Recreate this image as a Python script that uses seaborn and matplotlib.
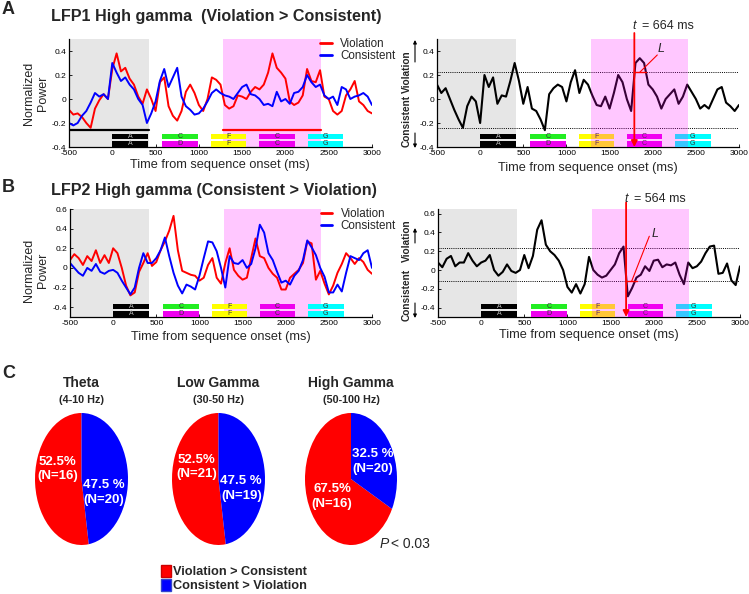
import matplotlib
matplotlib.use("Agg")
import matplotlib.pyplot as plt
from matplotlib.patches import Patch
import seaborn as sns

sns.set_theme(style="white")
plt.rcParams["font.family"] = ["Liberation Sans", "DejaVu Sans"]
plt.rcParams["axes.unicode_minus"] = False
NARROW = ["Liberation Sans Narrow", "Liberation Sans", "DejaVu Sans"]

W, H = 749, 594

# ---- data (one sample every 50 ms, -500 .. 3000) ----
TIME = list(range(-500, 3001, 50))

A_VIOL = [-0.09, -0.13, -0.12, -0.15, -0.20, -0.24, -0.08, -0.01, 0.04, 0.00,
          0.25, 0.38, 0.23, 0.26, 0.17, 0.12, 0.02, -0.04, 0.08, 0.00,
          -0.10, 0.14, 0.18, -0.06, -0.14, -0.18, -0.10, 0.06, 0.12, 0.05,
          -0.05, -0.10, 0.00, 0.18, 0.16, 0.12, -0.05, -0.08, -0.06, 0.03,
          0.02, 0.00, 0.06, 0.10, 0.08, 0.12, 0.22, 0.38, 0.26, 0.22,
          0.17, -0.02, -0.05, -0.03, 0.03, 0.25, 0.15, 0.14, 0.24, 0.02,
          0.00, -0.10, -0.13, -0.10, 0.03, 0.08, 0.15, -0.02, -0.05, -0.10,
          -0.12]
A_CONS = [-0.20, -0.22, -0.20, -0.14, -0.10, -0.03, 0.05, 0.02, 0.04, 0.00,
          0.30, 0.22, 0.15, 0.18, 0.12, 0.08, 0.00, -0.05, -0.20, -0.12,
          -0.02, 0.15, 0.25, 0.10, 0.18, 0.26, 0.02, -0.06, -0.09, -0.13,
          -0.12, -0.08, -0.02, 0.05, 0.08, 0.05, 0.03, 0.02, 0.00, 0.05,
          0.10, 0.12, 0.04, 0.03, 0.00, -0.05, -0.04, -0.06, 0.06, -0.02,
          0.00, -0.04, 0.05, 0.06, 0.10, 0.20, 0.14, 0.10, 0.12, 0.03,
          0.00, 0.02, -0.05, 0.10, 0.08, 0.00, 0.02, 0.03, 0.05, 0.02,
          -0.05]
A_DIFF = [0.12, 0.05, 0.09, 0.00, -0.09, -0.17, -0.24, -0.06, 0.02, -0.02,
          -0.20, 0.20, 0.10, 0.18, -0.04, 0.03, 0.02, 0.15, 0.30, 0.15,
          -0.04, 0.10, -0.08, -0.10, -0.17, -0.26, 0.04, 0.09, 0.12, 0.10,
          -0.02, 0.14, 0.24, 0.05, 0.16, 0.12, 0.03, -0.05, -0.06, 0.02,
          -0.08, 0.05, 0.20, 0.14, 0.00, -0.10, 0.30, 0.34, 0.30, 0.12,
          0.08, 0.02, -0.08, 0.00, 0.04, 0.08, -0.04, 0.02, 0.12, 0.06,
          0.00, -0.08, -0.05, -0.08, 0.00, 0.08, 0.10, -0.03, -0.06, -0.10,
          -0.05]
B_VIOL = [0.08, 0.14, 0.10, 0.03, 0.12, 0.07, 0.18, 0.05, 0.13, 0.05,
          0.20, 0.15, 0.00, -0.18, -0.28, -0.25, -0.04, 0.05, 0.15, 0.02,
          0.06, 0.18, 0.27, 0.38, 0.53, 0.18, -0.03, -0.05, -0.07, -0.08,
          -0.13, -0.10, 0.03, 0.10, -0.10, -0.16, 0.05, 0.20, -0.02, -0.08,
          -0.12, -0.10, 0.10, 0.30, 0.12, 0.10, 0.00, -0.06, -0.10, -0.22,
          -0.22, -0.10, -0.06, -0.02, 0.05, 0.27, 0.25, -0.12, -0.03, -0.16,
          -0.27, -0.18, -0.05, 0.04, 0.15, 0.10, 0.04, 0.10, 0.06, -0.02,
          -0.06]
B_CONS = [0.05, 0.00, -0.05, -0.08, 0.00, -0.03, 0.04, -0.04, -0.06, -0.03,
          -0.02, -0.05, -0.13, -0.20, -0.27, -0.20, 0.00, 0.15, 0.05, 0.05,
          0.10, 0.18, 0.31, 0.12, -0.05, -0.18, -0.26, -0.17, -0.19, -0.22,
          -0.08, 0.10, 0.27, 0.26, 0.17, 0.00, -0.20, 0.12, 0.05, 0.04,
          0.08, 0.00, 0.04, 0.20, 0.44, 0.36, 0.15, 0.08, -0.04, -0.15,
          -0.13, -0.17, -0.08, -0.03, 0.08, 0.28, 0.21, 0.13, 0.00, -0.09,
          -0.25, -0.25, -0.17, -0.24, -0.05, 0.12, 0.10, 0.08, 0.15, 0.18,
          0.00]
B_DIFF = [0.08, 0.03, 0.12, 0.15, 0.04, 0.08, 0.08, 0.18, 0.10, 0.04,
          0.08, 0.10, 0.16, 0.00, -0.06, -0.02, 0.06, -0.01, -0.03, 0.00,
          0.16, 0.02, 0.15, 0.43, 0.53, 0.27, 0.20, 0.16, 0.10, 0.00,
          -0.18, -0.24, -0.15, -0.25, -0.15, 0.14, 0.00, -0.05, -0.08, -0.06,
          0.00, 0.06, 0.18, 0.25, -0.28, -0.19, -0.08, -0.05, 0.04, -0.01,
          0.10, 0.11, 0.03, 0.06, 0.05, 0.08, -0.05, -0.15, 0.08, 0.02,
          0.04, 0.09, 0.18, 0.25, 0.26, -0.04, -0.03, 0.07, -0.11, -0.16,
          0.04]

SERIES_LABELS = ["Violation", "Consistent"]
A_THRESH = [0.225, -0.24]
B_THRESH = [0.23, -0.12]
A_ONSET, B_ONSET = 1787, 1680
A_TLABEL, B_TLABEL = "= 664 ms", "= 564 ms"

BASELINE = (-500, 420)
WINDOW = (1280, 2410)
SEQ_START = [0, 580, 1140, 1700, 2260]
SEQ_LEN = 410
SEQ_TOP = ["A", "C", "F", "C", "G"]
SEQ_BOT = ["A", "D", "F", "C", "G"]
SEQ_TOP_COL = ["black", "#22ee22", "#ffff00", "#ee00ee", "#00ffff"]
SEQ_BOT_COL = ["black", "#ee00ee", "#ffff00", "#ee00ee", "#00ffff"]

BANDS = ["Theta", "Low Gamma", "High Gamma"]
BAND_HZ = ["(4-10 Hz)", "(30-50 Hz)", "(50-100 Hz)"]
PCT_VIOL = [52.5, 52.5, 67.5]
PCT_CONS = [47.5, 47.5, 32.5]
N_VIOL = [16, 21, 16]
N_CONS = [20, 19, 20]
PIE_LABELS = ["Violation > Consistent", "Consistent > Violation"]

RED, BLUE = "#ff0000", "#0000ff"
XTICKS = list(range(-500, 3001, 500))


def px_axes(fig, x0, y0, x1, y1):
    return fig.add_axes([x0 / W, 1 - y1 / H, (x1 - x0) / W, (y1 - y0) / H])


def style(ax, ylim, yticks):
    ax.set_xlim(-500, 3000)
    ax.set_ylim(*ylim)
    ax.set_xticks(XTICKS)
    ax.set_xticklabels([str(v) for v in XTICKS])
    ax.set_yticks(yticks)
    ax.set_yticklabels([f"{v:g}" for v in yticks])
    for s in ("top", "right"):
        ax.spines[s].set_visible(False)
    for s in ("left", "bottom"):
        ax.spines[s].set_color("black")
        ax.spines[s].set_linewidth(0.9)
    ax.tick_params(direction="in", length=2.5, width=0.6, labelsize=6, pad=2,
                   bottom=True, left=True, colors="black")
    ax.set_xlabel("")
    ax.set_ylabel("")


def seq_boxes(ax):
    tr = ax.get_xaxis_transform()
    for s, lt, lb, ct, cb in zip(SEQ_START, SEQ_TOP, SEQ_BOT, SEQ_TOP_COL, SEQ_BOT_COL):
        ax.axvspan(s, s + SEQ_LEN, ymin=0.072, ymax=0.125, color=ct, lw=0, zorder=3)
        ax.axvspan(s, s + SEQ_LEN, ymin=0.0, ymax=0.057, color=cb, lw=0, zorder=3)
        for y, letter, c in ((0.098, lt, ct), (0.029, lb, cb)):
            ax.text(s + SEQ_LEN / 2, y, letter, transform=tr, ha="center", va="center",
                    fontsize=5, color="#bbbbbb" if c == "black" else "#333333", zorder=4)


def left_panel(ax, viol, cons, ylim, yticks):
    ax.axvspan(*BASELINE, color="#e6e6e6", lw=0, zorder=0)
    ax.axvspan(*WINDOW, color="#ffc7ff", lw=0, zorder=0)
    sns.lineplot(x=TIME, y=viol, ax=ax, color=RED, linewidth=1.4, label=SERIES_LABELS[0])
    sns.lineplot(x=TIME, y=cons, ax=ax, color=BLUE, linewidth=1.4, label=SERIES_LABELS[1])
    seq_boxes(ax)
    style(ax, ylim, yticks)
    leg = ax.legend(loc="upper left", bbox_to_anchor=(0.83, 1.01), frameon=False,
                    fontsize=8.4, handlelength=1.0, handletextpad=0.7, borderpad=0,
                    borderaxespad=0, labelspacing=0.0)
    for line in leg.get_lines():
        line.set_linewidth(2.0)


def right_panel(ax, diff, ylim, yticks, thresh):
    ax.axvspan(*BASELINE, color="#e6e6e6", lw=0, zorder=0)
    sns.lineplot(x=TIME, y=diff, ax=ax, color="black", linewidth=1.5)
    for t in thresh:
        ax.axhline(t, color="black", ls=(0, (1, 1.2)), lw=0.7, zorder=2)
    seq_boxes(ax)
    ax.axvspan(*WINDOW, color="#ff00ff", alpha=0.22, lw=0, zorder=5)
    style(ax, ylim, yticks)


fig = plt.figure(figsize=(W / 100, H / 100), dpi=100)

# ---------------- panel A ----------------
axA1 = px_axes(fig, 69, 39, 372, 147)
left_panel(axA1, A_VIOL, A_CONS, (-0.4, 0.5), [-0.4, -0.2, 0, 0.2, 0.4])
axA1.plot(BASELINE, [-0.258, -0.258], color="black", lw=1.6, zorder=4)
axA1.plot(WINDOW, [-0.258, -0.258], color=RED, lw=1.6, zorder=4)

axA2 = px_axes(fig, 437, 39, 739, 147)
right_panel(axA2, A_DIFF, (-0.4, 0.5), [-0.4, -0.2, 0, 0.2, 0.4], A_THRESH)
axA2.annotate("", xy=(A_ONSET, -0.4), xytext=(A_ONSET, 0.55), annotation_clip=False,
              arrowprops=dict(arrowstyle="-|>", color=RED, lw=1.3, mutation_scale=9,
                              shrinkA=0, shrinkB=0), zorder=7)
axA2.plot([A_ONSET, 1922], [A_THRESH[0]] * 2, color=RED, lw=1.0, zorder=7)
axA2.plot([1853, 2053], [A_THRESH[0], 0.367], color=RED, lw=0.8, zorder=7)

# ---------------- panel B ----------------
axB1 = px_axes(fig, 70, 209, 372, 317)
left_panel(axB1, B_VIOL, B_CONS, (-0.5, 0.6), [-0.4, -0.2, 0, 0.2, 0.4, 0.6])

axB2 = px_axes(fig, 438, 209, 740, 317)
right_panel(axB2, B_DIFF, (-0.5, 0.65), [-0.4, -0.2, 0, 0.2, 0.4, 0.6], B_THRESH)
axB2.annotate("", xy=(B_ONSET, -0.5), xytext=(B_ONSET, 0.72), annotation_clip=False,
              arrowprops=dict(arrowstyle="-|>", color=RED, lw=1.3, mutation_scale=9,
                              shrinkA=0, shrinkB=0), zorder=7)
axB2.plot([B_ONSET, 1810], [B_THRESH[1]] * 2, color=RED, lw=1.0, zorder=7)
axB2.plot([1744, 1949], [B_THRESH[1], 0.36], color=RED, lw=0.8, zorder=7)


# ---- text of panels A and B ----
def ftext(x, y, s, **kw):
    fig.text(x / W, 1 - y / H, s, **kw)


ftext(2, 10, "A", fontsize=13, weight="bold", va="center")
ftext(2, 187, "B", fontsize=13, weight="bold", va="center")
ftext(51, 17, "LFP1 High gamma  (Violation > Consistent)", fontsize=11.6, weight="bold", va="center")
ftext(51, 190, "LFP2 High gamma (Consistent > Violation)", fontsize=11.6, weight="bold", va="center")
for yc in (93, 270):
    ftext(36, yc, "Normalized\nPower", fontsize=9, rotation=90, ha="center", va="center",
          multialignment="center")
for xc, yc in ((220, 165), (588, 168), (221, 337), (589, 335)):
    ftext(xc, yc, "Time from sequence onset (ms)", fontsize=9.2, ha="center", va="center")
for yv, yc, a0, a1, b0, b1 in ((72, 121, 62, 40, 133, 148), (241, 295, 243, 228, 303, 318)):
    ftext(407, yv, "Violation", fontsize=7.3, weight="bold", rotation=90, ha="center", va="center")
    ftext(407, yc, "Consistent", fontsize=7.3, weight="bold", rotation=90, ha="center", va="center")
    for s0, s1 in ((a0, a1), (b0, b1)):
        axA1.annotate("", xy=(415, H - s1), xytext=(415, H - s0), xycoords="figure pixels",
                      textcoords="figure pixels", annotation_clip=False,
                      arrowprops=dict(arrowstyle="-|>", color="black", lw=0.8,
                                      mutation_scale=5, shrinkA=0, shrinkB=0))
for xt, yt, lab, xl, yl in ((632, 26, A_TLABEL, 661, 49), (624, 199, B_TLABEL, 655, 234)):
    ftext(xt, yt, "t", fontsize=9, style="italic", va="center")
    ftext(xt + 10, yt, lab, fontsize=9, va="center")
    ftext(xl, yl, "L", fontsize=9, style="italic", ha="center", va="center")

# ---------------- panel C ----------------
ftext(2, 373, "C", fontsize=13, weight="bold", va="center")
PIE_X = [(35, 128), (172, 265), (305, 397)]
LBL_V = [(-0.52, 0.15), (-0.47, 0.18), (-0.41, -0.26)]
LBL_C = [(0.47, -0.20), (0.49, -0.14), (0.47, 0.27)]
for i in range(3):
    x0, x1 = PIE_X[i]
    ax = px_axes(fig, x0, 413, x1, 545)
    ax.pie([PCT_VIOL[i], PCT_CONS[i]], colors=[RED, BLUE], startangle=90,
           counterclock=True, radius=1, wedgeprops=dict(linewidth=0))
    ax.set_aspect("auto")
    ax.set_xlim(-1, 1)
    ax.set_ylim(-1, 1)
    ax.axis("off")
    ax.text(*LBL_V[i], f"{PCT_VIOL[i]}%\n(N={N_VIOL[i]})", color="white", weight="bold",
            family=NARROW, fontsize=9.5, ha="center", va="center", linespacing=1.3)
    ax.text(*LBL_C[i], f"{PCT_CONS[i]} %\n(N={N_CONS[i]})", color="white", weight="bold",
            family=NARROW, fontsize=9.5, ha="center", va="center", linespacing=1.3)
    xc = (x0 + x1) / 2
    ftext(xc, 383, BANDS[i], family=NARROW, weight="bold", fontsize=10, ha="center", va="center")
    ftext(xc, 400, BAND_HZ[i], family=NARROW, weight="bold", fontsize=7.8, ha="center", va="center")

ftext(380, 544, "P", family=NARROW, style="italic", fontsize=10, va="center")
ftext(391, 544, "< 0.03", family=NARROW, fontsize=10, va="center")
fig.legend([Patch(facecolor=RED, edgecolor="#cc0000"), Patch(facecolor=BLUE, edgecolor="#3344cc")],
           PIE_LABELS, loc="upper left", bbox_to_anchor=(161 / W, 1 - 565 / H), frameon=False,
           prop=dict(family=NARROW, weight="bold", size=9.2), handlelength=0.8,
           handleheight=1.05, handletextpad=0.15, labelspacing=0.05, borderpad=0,
           borderaxespad=0)

fig.savefig("out.png", dpi=100)
